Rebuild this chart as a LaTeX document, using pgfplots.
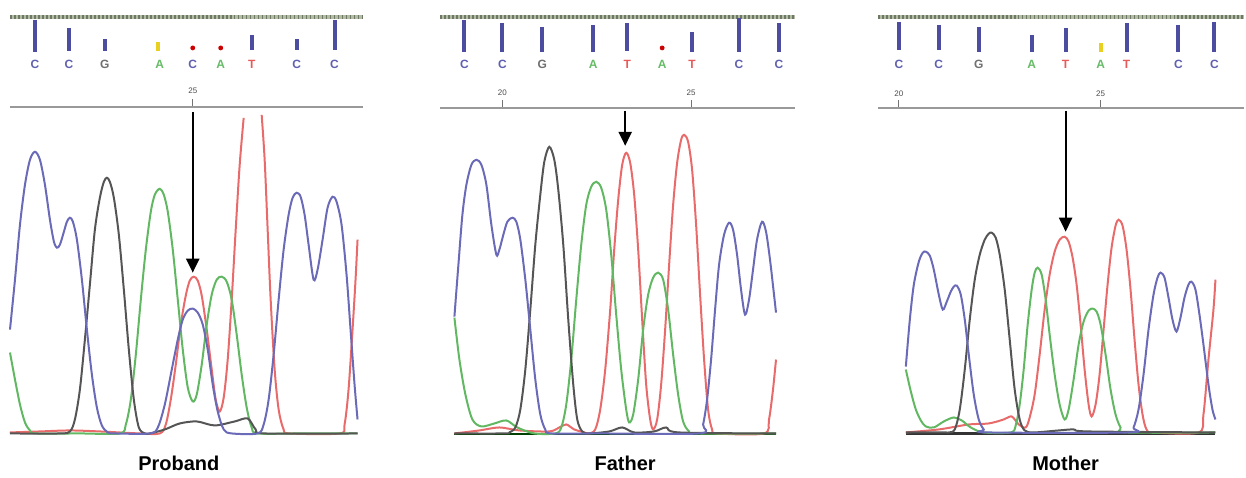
\documentclass[border=0pt]{standalone}
\usepackage{fontspec}
\setmainfont{Liberation Sans}
\usepackage{pgfplots}
\pgfplotsset{compat=1.18}
\usetikzlibrary{arrows.meta}
\definecolor{cb}{HTML}{6A6AB8}
\definecolor{cg}{HTML}{62B862}
\definecolor{cr}{HTML}{E86A6A}
\definecolor{ck}{HTML}{555555}
\definecolor{barb}{HTML}{4C4CA0}
\definecolor{lC}{HTML}{6060B0}
\definecolor{lG}{HTML}{707070}
\definecolor{lA}{HTML}{66BB66}
\definecolor{lT}{HTML}{E85A5A}
\definecolor{yel}{HTML}{E8D020}
\definecolor{rulA}{HTML}{B4BCA4}
\definecolor{rulB}{HTML}{6E7866}
\begin{document}
\begin{tikzpicture}
\begin{axis}[
  width=623pt, height=237.5pt, scale only axis,
  xmin=0, xmax=1246, ymin=0, ymax=475, y dir=reverse,
  axis lines=none, clip=false,
  unbounded coords=jump,
]
\addplot[draw=none] coordinates {(0,0) (1246,475)};
% ---------- rulers (top dotted band) ----------
\addplot[rulA, line width=1.6pt] coordinates {(10,17) (363,17)};
\addplot[rulA, line width=1.6pt] coordinates {(441,17) (796,17)};
\addplot[rulA, line width=1.6pt] coordinates {(879,17) (1246,17)};
\addplot[rulB, line width=1.6pt, dash pattern=on 0.9pt off 1.1pt] coordinates {(10,17) (363,17)};
\addplot[rulB, line width=1.6pt, dash pattern=on 0.9pt off 1.1pt] coordinates {(441,17) (796,17)};
\addplot[rulB, line width=1.6pt, dash pattern=on 0.9pt off 1.1pt] coordinates {(879,17) (1246,17)};
% ---------- base-call bars ----------
\addplot[barb, line width=2pt] coordinates {
 (35,20)(35,52) (nan,nan) (69,28)(69,51) (nan,nan) (105,39)(105,51) (nan,nan)
 (252,35)(252,50) (nan,nan) (297,39)(297,50) (nan,nan) (335,20)(335,50) (nan,nan)
 (465,20)(465,52) (nan,nan) (503,23)(503,52) (nan,nan) (543,27)(543,52) (nan,nan)
 (594,25)(594,52) (nan,nan) (628,23)(628,51) (nan,nan) (693,32)(693,52) (nan,nan)
 (740,18)(740,52) (nan,nan) (780,23)(780,52) (nan,nan)
 (900,22)(900,50) (nan,nan) (940,25)(940,50) (nan,nan) (980,27)(980,52) (nan,nan)
 (1033,35)(1033,52) (nan,nan) (1067,28)(1067,52) (nan,nan) (1128,23)(1128,52) (nan,nan)
 (1180,25)(1180,52) (nan,nan) (1216,22)(1216,52)};
\addplot[yel, line width=2pt] coordinates {(158,42)(158,51) (nan,nan) (1102,43)(1102,52)};
\addplot[only marks, mark=*, mark size=1.0pt, color=red!80!black] coordinates {(193,48) (221,48) (663,48)};
% base letters
\pgfplotsinvokeforeach{35,69,193,297,335,465,503,740,780,900,940,1180,1216}{
  \node[font=\fontsize{6}{7}\selectfont\bfseries, text=lC] at (axis cs:#1,64) {C};}
\pgfplotsinvokeforeach{105,543,980}{
  \node[font=\fontsize{6}{7}\selectfont\bfseries, text=lG] at (axis cs:#1,64) {G};}
\pgfplotsinvokeforeach{160,221,594,663,1033,1102}{
  \node[font=\fontsize{6}{7}\selectfont\bfseries, text=lA] at (axis cs:#1,64) {A};}
\pgfplotsinvokeforeach{252,628,693,1067,1128}{
  \node[font=\fontsize{6}{7}\selectfont\bfseries, text=lT] at (axis cs:#1,64) {T};}
% position numbers
\node[font=\fontsize{4}{5}\selectfont, text=black!70] at (axis cs:193,91) {25};
\node[font=\fontsize{4}{5}\selectfont, text=black!70] at (axis cs:503,93) {20};
\node[font=\fontsize{4}{5}\selectfont, text=black!70] at (axis cs:692,93) {25};
\node[font=\fontsize{4}{5}\selectfont, text=black!70] at (axis cs:900,94) {20};
\node[font=\fontsize{4}{5}\selectfont, text=black!70] at (axis cs:1102,94) {25};
% scale lines with ticks
\addplot[black!40, line width=1.3pt] coordinates {(10,107) (363,107)};
\addplot[black!40, line width=1.3pt] coordinates {(441,108) (796,108)};
\addplot[black!40, line width=1.3pt] coordinates {(879,108) (1246,108)};
\addplot[black!55, line width=0.5pt] coordinates {(193,99)(193,106) (nan,nan) (503,100)(503,107) (nan,nan) (692,100)(692,107) (nan,nan) (900,100)(900,107) (nan,nan) (1102,100)(1102,107)};
% ---------- Panel 1: Proband ----------
\addplot[cr, line width=1pt, smooth] coordinates {
(10,433)(40,432)(70,431)(100,432)(140,434)(160,434)(166,425)(171,400)(176,365)(181,325)(186,296)(190,281)(194,277)(198,281)(202,296)(207,330)(212,370)(216,400)(220,412)(224,398)(228,360)(232,300)(236,230)(240,165)(244,118)
(nan,nan)
(262,115)(265,160)(268,230)(271,300)(275,370)(279,410)(284,430)(290,434)(340,434)(345,425)(349,390)(353,330)(356,280)(358,240)};
\addplot[cg, line width=1pt, smooth] coordinates {
(10,353)(15,380)(20,405)(25,423)(30,431)(36,434)(80,434)(120,434)(126,425)(131,400)(136,355)(141,300)(146,250)(151,212)(155,195)(160,189)(164,195)(168,212)(173,250)(178,300)(183,350)(188,388)(193,402)(197,395)(202,365)(207,325)(212,295)(217,280)(222,277)(227,282)(232,300)(237,335)(242,375)(247,408)(252,428)(258,434)(300,434)(358,434)};
\addplot[ck, line width=1pt, smooth] coordinates {
(10,434)(60,434)(70,432)(75,420)(80,390)(85,340)(90,285)(95,230)(100,198)(104,182)(107,178)(110,182)(114,198)(119,235)(124,290)(129,350)(134,400)(139,428)(145,434)(150,434)(165,430)(180,424)(197,422)(215,426)(235,422)(248,419)(256,430)(265,434)(358,434)};
\addplot[cb, line width=1pt, smooth] coordinates {
(10,330)(15,280)(20,225)(25,185)(30,160)(35,152)(40,160)(45,185)(50,220)(54,242)(57,248)(60,245)(64,232)(67,222)(70,218)(73,222)(77,240)(82,280)(87,330)(92,375)(97,408)(102,426)(108,433)(115,434)(150,434)(158,428)(165,405)(172,370)(178,340)(183,320)(188,311)(193,309)(198,313)(203,325)(208,350)(213,385)(218,412)(224,430)(232,434)(258,434)(264,425)(269,400)(274,355)(279,300)(284,250)(289,215)(293,198)(297,193)(301,197)(305,215)(309,245)(314,280)(318,270)(323,240)(328,208)(333,197)(337,202)(342,225)(347,275)(351,330)(355,385)(358,420)};
% ---------- Panel 2: Father ----------
\addplot[black!75!green, line width=1pt] coordinates {(455,435) (777,435)};
\addplot[cr, line width=1pt, smooth] coordinates {
(455,434)(480,431)(500,428)(520,431)(550,432)(560,428)(567,425)(575,430)(585,433)(590,434)(596,430)(601,410)(606,370)(611,310)(615,250)(619,200)(623,165)(627,153)(631,163)(635,195)(639,250)(643,320)(647,385)(651,420)(654,430)(658,420)(662,385)(666,330)(670,265)(674,205)(678,163)(682,140)(685,135)(689,142)(693,170)(697,225)(701,295)(705,360)(709,410)(713,430)(718,434)(765,434)(770,420)(774,390)(777,360)};
\addplot[cg, line width=1pt, smooth] coordinates {
(455,318)(460,360)(466,395)(473,420)(482,427)(495,424)(507,421)(518,428)(535,434)(556,434)(562,428)(567,405)(572,360)(577,300)(582,245)(587,205)(592,187)(597,182)(602,188)(607,210)(612,255)(617,315)(622,370)(627,410)(630,423)(634,415)(639,380)(644,330)(649,295)(654,278)(659,273)(664,280)(669,310)(674,355)(679,395)(684,422)(690,432)(697,434)(777,434)};
\addplot[ck, line width=1pt, smooth] coordinates {
(455,434)(505,434)(510,433)(516,428)(521,410)(526,370)(531,310)(536,245)(541,195)(545,162)(550,147)(555,160)(559,190)(564,245)(569,320)(574,385)(578,420)(583,432)(590,434)(610,432)(623,428)(635,433)(655,432)(667,428)(680,433)(777,434)};
\addplot[cb, line width=1pt, smooth] coordinates {
(455,317)(459,265)(463,215)(467,185)(472,165)(477,160)(482,165)(487,185)(492,225)(497,255)(500,250)(504,235)(508,222)(513,218)(517,222)(521,240)(526,280)(531,330)(536,380)(541,415)(546,430)(552,434)(600,434)(700,434)(704,425)(708,400)(712,360)(716,310)(720,265)(725,235)(730,223)(734,230)(738,255)(742,290)(746,315)(750,300)(754,270)(758,240)(763,222)(767,232)(771,260)(775,295)(777,313)};
% ---------- Panel 3: Mother ----------
\addplot[black!80, line width=1.3pt] coordinates {(907,434) (1217,434)};
\addplot[cr, line width=1pt, smooth] coordinates {
(907,433)(940,430)(970,425)(990,424)(1005,420)(1013,417)(1020,425)(1027,428)(1031,418)(1036,395)(1041,355)(1046,310)(1051,275)(1056,252)(1061,240)(1066,237)(1070,242)(1074,258)(1078,285)(1082,325)(1086,370)(1090,405)(1093,417)(1097,405)(1101,375)(1105,330)(1109,285)(1113,248)(1117,226)(1120,220)(1124,226)(1128,250)(1132,290)(1136,340)(1140,385)(1144,415)(1148,430)(1155,433)(1200,433)(1205,415)(1210,360)(1215,310)(1217,280)};
\addplot[cg, line width=1pt, smooth] coordinates {
(907,370)(912,392)(917,410)(922,421)(927,427)(935,428)(945,422)(955,418)(963,421)(972,428)(985,433)(1012,433)(1017,426)(1021,405)(1025,370)(1029,325)(1033,290)(1036,273)(1039,268)(1043,275)(1047,300)(1051,335)(1056,375)(1061,405)(1066,420)(1070,410)(1075,380)(1080,345)(1085,322)(1090,311)(1094,309)(1098,312)(1102,325)(1107,355)(1112,390)(1117,415)(1122,428)(1128,433)(1217,433)};
\addplot[ck, line width=1pt, smooth] coordinates {
(907,433)(945,433)(950,433)(956,430)(961,410)(966,370)(971,320)(976,280)(981,255)(986,240)(990,234)(993,233)(997,238)(1001,255)(1006,290)(1011,340)(1016,390)(1021,420)(1026,431)(1035,433)(1060,431)(1075,430)(1090,432)(1217,433)};
\addplot[cb, line width=1pt, smooth] coordinates {
(907,367)(911,320)(915,285)(920,262)(924,253)(927,252)(931,256)(935,270)(940,295)(944,310)(948,302)(952,292)(955,287)(958,286)(962,295)(966,320)(970,355)(975,395)(980,420)(985,430)(990,433)(1130,433)(1135,428)(1140,410)(1145,375)(1150,330)(1155,295)(1159,278)(1162,273)(1166,278)(1170,298)(1174,320)(1178,332)(1182,318)(1186,298)(1190,285)(1193,282)(1197,290)(1201,315)(1205,345)(1210,385)(1214,410)(1217,420)};
% ---------- arrows ----------
\addplot[black, line width=1.1pt, -{Triangle[width=6.5pt,length=7pt]}] coordinates {(193,112) (193,273)};
\addplot[black, line width=1.1pt, -{Triangle[width=6.5pt,length=7pt]}] coordinates {(626,111) (626,146)};
\addplot[black, line width=1.1pt, -{Triangle[width=6.5pt,length=7pt]}] coordinates {(1067,111) (1067,232)};
% ---------- captions ----------
\node[font=\fontsize{10}{12}\selectfont\bfseries] at (axis cs:179,464) {Proband};
\node[font=\fontsize{10}{12}\selectfont\bfseries] at (axis cs:626,464) {Father};
\node[font=\fontsize{10}{12}\selectfont\bfseries] at (axis cs:1067,464) {Mother};
\end{axis}
\end{tikzpicture}
\end{document}
